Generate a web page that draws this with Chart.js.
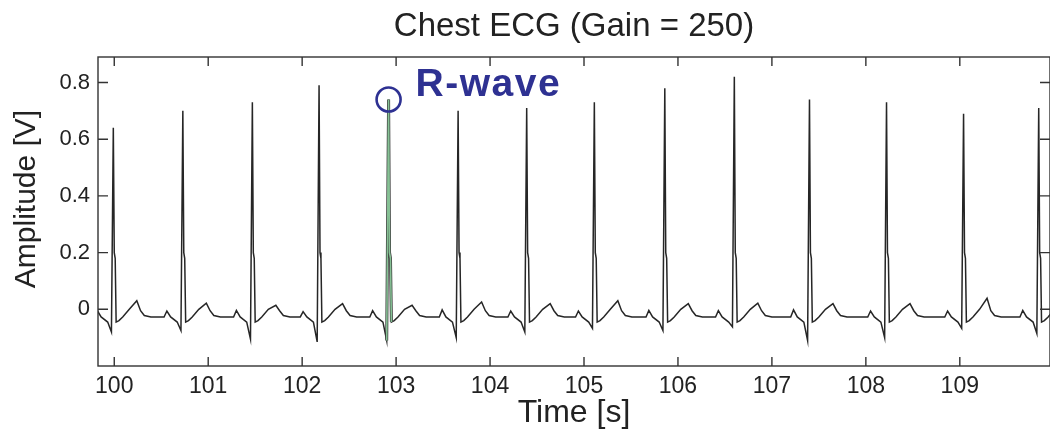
<!DOCTYPE html>
<html>
<head>
<meta charset="utf-8">
<title>Chest ECG</title>
<script src="https://cdn.jsdelivr.net/npm/chart.js@4/dist/chart.umd.min.js"></script>
<style>
  html, body { margin: 0; padding: 0; background: #fff; }
  #wrap { width: 1050px; height: 442px; }
</style>
</head>
<body>
<div id="wrap"><canvas id="ecgChart" width="1050" height="442"></canvas></div>
<script>
// values, one entry per heart beat
const rTimes = [99.99, 100.73, 101.47, 102.18, 102.92, 103.66, 104.39, 105.11, 105.86, 106.60, 107.40, 108.22, 109.04, 109.84];
const rPeaks = [0.64, 0.70, 0.73, 0.79, 0.74, 0.70, 0.71, 0.73, 0.78, 0.82, 0.74, 0.73, 0.69, 0.71];
const qDips  = [-0.08, -0.075, -0.105, -0.115, -0.11, -0.10, -0.08, -0.067, -0.075, -0.062, -0.11, -0.10, -0.067, -0.085];
const tPeaks = [0.03, 0.022, 0.014, 0.02, 0.014, 0.026, 0.02, 0.03, 0.02, 0.022, 0.02, 0.02, 0.039, 0.03];
const pPeaks = [-0.005, -0.006, -0.004, -0.008, -0.005, -0.002, -0.006, -0.006, -0.004, -0.005, -0.002, -0.006, -0.006, -0.004];

// shape of one beat around its R peak (seconds from R, level in V)
const baseLevel = -0.027;
const beatOffsets = [-0.20, -0.17, -0.13, -0.06, -0.02, 0, 0.01, 0.02, 0.03, 0.06, 0.10, 0.17, 0.25, 0.29, 0.33, 0.40];
const fixedLevels = [baseLevel, null, baseLevel, -0.045, null, null, 0.20, 0.18, -0.045, -0.04, -0.027, 0.0, null, -0.005, -0.022, baseLevel];

const xTicks = [100, 101, 102, 103, 104, 105, 106, 107, 108, 109];
const yTicks = [0, 0.2, 0.4, 0.6, 0.8];
const markedBeat = 4;   // the beat circled as "R-wave"

function beatPoints(i) {
    return beatOffsets.map(function (off, k) {
        let v = fixedLevels[k];
        if (k === 1) v = pPeaks[i];
        if (k === 4) v = qDips[i];
        if (k === 5) v = rPeaks[i];
        if (k === 12) v = tPeaks[i];
        return { x: +(rTimes[i] + off).toFixed(3), y: v };
    });
}

let ecgPoints = [];
rTimes.forEach(function (t, i) { ecgPoints = ecgPoints.concat(beatPoints(i)); });

// green highlight of the marked R spike
const rWavePoints = beatPoints(markedBeat).slice(4, 9);

const textColor = '#222';
Chart.defaults.font.family = '"Liberation Sans", Arial, sans-serif';
Chart.defaults.color = textColor;

// box round the plot and MATLAB style inward ticks on all four sides
const frameTicks = {
    id: 'frameTicks',
    afterDatasetsDraw(chart) {
        const { ctx, chartArea: a, scales: { x, y } } = chart;
        ctx.save();
        ctx.strokeStyle = '#333';
        ctx.lineWidth = 1.4;
        ctx.strokeRect(a.left, a.top, a.right - a.left, a.bottom - a.top);
        ctx.beginPath();
        xTicks.forEach(function (v) {
            const px = x.getPixelForValue(v);
            ctx.moveTo(px, a.bottom); ctx.lineTo(px, a.bottom - 9);
            ctx.moveTo(px, a.top); ctx.lineTo(px, a.top + 9);
        });
        yTicks.forEach(function (v) {
            const py = y.getPixelForValue(v);
            ctx.moveTo(a.left, py); ctx.lineTo(a.left + 10, py);
            ctx.moveTo(a.right, py); ctx.lineTo(a.right - 10, py);
        });
        ctx.stroke();
        ctx.restore();
    }
};

// y axis title and the R-wave label
const labels = {
    id: 'labels',
    afterDraw(chart) {
        const { ctx, scales: { x, y } } = chart;
        ctx.save();
        ctx.fillStyle = textColor;
        ctx.font = '30px "Liberation Sans", Arial, sans-serif';
        ctx.translate(27, 199);
        ctx.rotate(-Math.PI / 2);
        ctx.textAlign = 'center';
        ctx.textBaseline = 'middle';
        ctx.fillText('Amplitude [V]', 0, 0);
        ctx.restore();

        const px = x.getPixelForValue(rTimes[markedBeat]);
        const py = y.getPixelForValue(rPeaks[markedBeat]);
        ctx.save();
        ctx.fillStyle = '#2e3192';
        ctx.font = 'bold 39px "Liberation Sans", Arial, sans-serif';
        ctx.letterSpacing = '1.5px';
        ctx.textAlign = 'left';
        ctx.textBaseline = 'alphabetic';
        ctx.fillText('R-wave', px + 27, py - 4);
        ctx.restore();
    }
};

new Chart(document.getElementById('ecgChart'), {
    type: 'line',
    data: {
        datasets: [{
            data: ecgPoints,
            order: 3,
            borderColor: '#262626',
            borderWidth: 1.5,
            pointRadius: 0,
            tension: 0
        }, {
            data: rWavePoints,
            order: 2,
            borderColor: '#3a3a3a',
            borderWidth: 3,
            pointRadius: 0,
            tension: 0
        }, {
            data: rWavePoints,
            order: 1,
            borderColor: '#86c195',
            borderWidth: 1.6,
            pointRadius: 0,
            tension: 0
        }, {
            data: [{ x: rTimes[markedBeat], y: rPeaks[markedBeat] }],
            order: 0,
            showLine: false,
            pointRadius: 12,
            pointBorderWidth: 2.6,
            pointBorderColor: '#2e3192',
            pointBackgroundColor: 'rgba(0,0,0,0)'
        }]
    },
    options: {
        responsive: false,
        animation: false,
        layout: { autoPadding: false, padding: { left: 0, right: -1, top: 0, bottom: 0 } },
        plugins: {
            legend: { display: false },
            tooltip: { enabled: false },
            title: {
                display: true,
                fullSize: false,
                text: 'Chest ECG (Gain = 250)',
                color: textColor,
                font: { size: 33, weight: 'normal' },
                padding: { top: 7, bottom: 10.4 }
            }
        },
        scales: {
            x: {
                type: 'linear',
                min: 99.827,
                max: 109.96,
                grid: { display: false, drawTicks: false },
                border: { display: false },
                afterBuildTicks: function (s) { s.ticks = xTicks.map(function (v) { return { value: v }; }); },
                afterFit: function (s) { s.height = 76; s.paddingLeft = 0; s.paddingRight = 0; },
                ticks: {
                    padding: 7,
                    font: { size: 23 },
                    color: textColor,
                    maxRotation: 0,
                    autoSkip: false,
                    callback: function (v) { return String(v); }
                },
                title: {
                    display: true,
                    text: 'Time [s]',
                    color: textColor,
                    font: { size: 32 },
                    padding: { top: 0, bottom: 10 }
                }
            },
            y: {
                type: 'linear',
                min: -0.2,
                max: 0.89,
                grid: { display: false, drawTicks: false },
                border: { display: false },
                afterBuildTicks: function (s) { s.ticks = yTicks.map(function (v) { return { value: v }; }); },
                afterFit: function (s) { s.width = 98; s.paddingTop = 0; s.paddingBottom = 0; },
                ticks: {
                    padding: 8,
                    font: { size: 22 },
                    color: textColor,
                    callback: function (v) { return String(v); }
                }
            }
        }
    },
    plugins: [frameTicks, labels]
});
</script>
</body>
</html>
